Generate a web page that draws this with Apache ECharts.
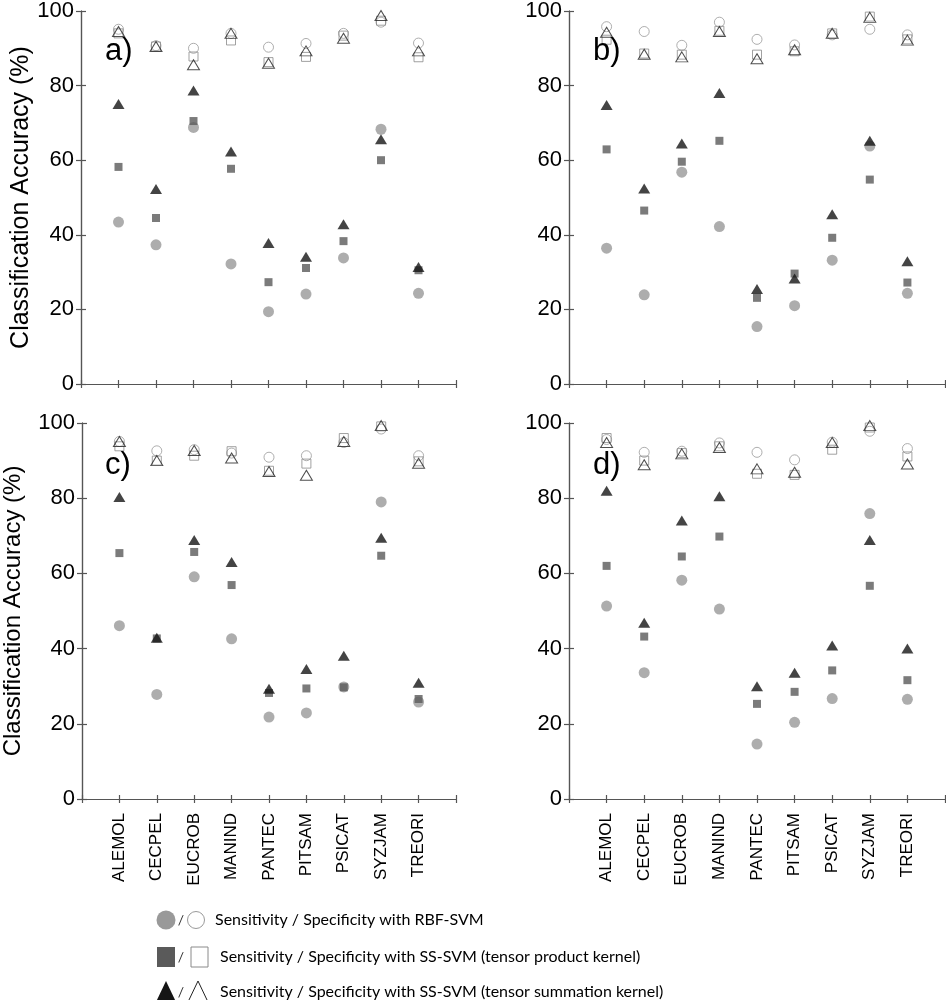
<!DOCTYPE html>
<html>
<head>
    <meta charset="utf-8">
    <title>Classification Accuracy</title>
    <style>
        body { margin: 0; background: #fff; }
        #chart { width: 946px; height: 1000px; }
    </style>
</head>
<body>
    <div id="chart"></div>
    <script src="https://cdn.jsdelivr.net/npm/echarts@6/dist/echarts.min.js"></script>
    <script>
        (function() {
            'use strict';

            var categories = ['ALEMOL', 'CECPEL', 'EUCROB', 'MANIND', 'PANTEC', 'PITSAM', 'PSICAT', 'SYZJAM', 'TREORI'];
            var yTicks = [0, 20, 40, 60, 80, 100];
            var panelNames = ['a)', 'b)', 'c)', 'd)'];

            // a)
            var rbfSensA = [43.4, 37.3, 68.8, 32.2, 19.4, 24.1, 33.8, 68.3, 24.3];
            var rbfSpecA = [95.1, 90.7, 90.0, 94.0, 90.3, 91.3, 94.0, 97.0, 91.4];
            var prodSensA = [58.2, 44.5, 70.5, 57.7, 27.3, 31.1, 38.3, 60.0, 30.5];
            var prodSpecA = [94.0, 90.5, 87.8, 92.1, 86.3, 87.7, 93.4, 97.4, 87.6];
            var sumSensA = [75.1, 52.3, 78.7, 62.3, 37.8, 34.1, 42.8, 65.6, 31.4];
            var sumSpecA = [94.5, 90.5, 85.6, 94.0, 86.0, 89.3, 92.7, 98.8, 89.3];

            // b)
            var rbfSensB = [36.4, 23.9, 56.8, 42.2, 15.4, 21.0, 33.2, 63.8, 24.3];
            var rbfSpecB = [95.8, 94.5, 90.8, 97.0, 92.4, 90.9, 93.6, 95.1, 93.6];
            var prodSensB = [62.9, 46.5, 59.6, 65.2, 23.1, 29.6, 39.2, 54.8, 27.2];
            var prodSpecB = [92.3, 88.6, 88.3, 94.7, 88.3, 89.2, 94.0, 98.5, 92.4];
            var sumSensB = [74.8, 52.4, 64.5, 78.0, 25.5, 28.3, 45.5, 65.2, 32.9];
            var sumSpecB = [94.3, 88.4, 87.7, 94.5, 87.2, 89.6, 94.0, 98.3, 92.2];

            // c)
            var rbfSensC = [46.1, 27.8, 59.1, 42.6, 21.8, 22.9, 29.8, 79.0, 25.8];
            var rbfSpecC = [95.1, 92.6, 92.9, 92.0, 90.9, 91.3, 94.8, 98.4, 91.3];
            var prodSensC = [65.4, 42.7, 65.7, 56.9, 28.2, 29.4, 29.7, 64.7, 26.6];
            var prodSpecC = [93.8, 90.0, 91.3, 92.5, 87.3, 89.2, 96.0, 99.1, 89.8];
            var sumSensC = [80.3, 42.9, 68.9, 63.0, 29.3, 34.6, 38.1, 69.5, 30.9];
            var sumSpecC = [95.1, 90.0, 92.7, 90.7, 87.1, 86.1, 95.1, 99.3, 89.3];

            // d)
            var rbfSensD = [51.3, 33.6, 58.2, 50.5, 14.6, 20.4, 26.7, 75.9, 26.5];
            var rbfSpecD = [95.6, 92.2, 92.5, 94.7, 92.2, 90.2, 94.9, 97.8, 93.2];
            var prodSensD = [62.0, 43.2, 64.5, 69.8, 25.3, 28.5, 34.2, 56.7, 31.6];
            var prodSpecD = [96.0, 90.0, 92.0, 93.8, 86.5, 86.2, 92.9, 98.8, 91.1];
            var sumSensD = [82.0, 46.9, 74.1, 80.5, 30.0, 33.6, 40.8, 68.9, 40.0];
            var sumSpecD = [94.8, 88.9, 91.8, 93.5, 87.8, 86.9, 94.8, 99.3, 89.1];

            var panelData = [
                [rbfSensA, rbfSpecA, prodSensA, prodSpecA, sumSensA, sumSpecA],
                [rbfSensB, rbfSpecB, prodSensB, prodSpecB, sumSensB, sumSpecB],
                [rbfSensC, rbfSpecC, prodSensC, prodSpecC, sumSensC, sumSpecC],
                [rbfSensD, rbfSpecD, prodSensD, prodSpecD, sumSensD, sumSpecD]
            ];

            // 标记样式: 圆/方/三角, 实心=sensitivity, 空心=specificity
            var markStyles = [
                { symbol: 'circle', size: 11, itemStyle: { color: '#999999' } },
                { symbol: 'circle', size: 10, itemStyle: { color: 'rgba(0,0,0,0)', borderColor: '#9a9a9a', borderWidth: 1 } },
                { symbol: 'rect', size: 8, itemStyle: { color: '#5a5a5a' } },
                { symbol: 'rect', size: 9, itemStyle: { color: 'rgba(0,0,0,0)', borderColor: '#8a8a8a', borderWidth: 1 } },
                { symbol: 'triangle', size: [12, 10], itemStyle: { color: '#151515' } },
                { symbol: 'triangle', size: [12, 10], itemStyle: { color: 'rgba(0,0,0,0)', borderColor: '#222222', borderWidth: 1 } }
            ];
            // 绘制顺序: 空心在下, 实心圆->方->三角
            var drawOrder = [1, 3, 5, 0, 2, 4];

            var gridPos = [
                { left: 81, top: 9, width: 375, height: 375 },
                { left: 569, top: 9, width: 376, height: 375 },
                { left: 81, top: 423, width: 375, height: 376 },
                { left: 569, top: 423, width: 376, height: 376 }
            ];
            var yNameSize = [25, 0, 24, 0];
            var yNameGap = [46, 0, 57, 0];

            var lineStyle = { color: '#555555', width: 1.2 };
            var font = 'Liberation Sans';

            var grids = [], xAxes = [], yAxes = [], series = [], titles = [];

            gridPos.forEach(function(g, i) {
                var bottomRow = i >= 2;
                grids.push(g);

                xAxes.push({
                    type: 'value', gridIndex: i, min: 0, max: 10, interval: 1,
                    position: 'bottom',
                    axisLine: { lineStyle: lineStyle },
                    axisTick: { inside: true, length: 4, lineStyle: lineStyle },
                    splitLine: { show: false },
                    axisLabel: {
                        show: bottomRow, rotate: 90, margin: 14,
                        fontFamily: font, fontSize: 17, color: '#000',
                        formatter: function(v) { return categories[v - 1] || ''; }
                    }
                });
                xAxes.push({
                    type: 'value', gridIndex: i, min: 0, max: 10, interval: 1,
                    position: 'top',
                    axisLine: { lineStyle: lineStyle },
                    axisTick: { inside: true, length: 4, lineStyle: lineStyle },
                    splitLine: { show: false },
                    axisLabel: { show: false }
                });

                yAxes.push({
                    type: 'value', gridIndex: i, min: yTicks[0], max: yTicks[yTicks.length - 1],
                    interval: yTicks[1] - yTicks[0], position: 'left',
                    name: (i % 2 === 0) ? 'Classification Accuracy (%)' : '',
                    nameLocation: 'middle', nameGap: yNameGap[i],
                    nameTextStyle: { fontFamily: font, fontSize: yNameSize[i] || 18, color: '#000' },
                    axisLine: { lineStyle: lineStyle },
                    axisTick: { inside: true, length: 5, lineStyle: lineStyle },
                    splitLine: { show: false },
                    axisLabel: { fontFamily: font, fontSize: 22, color: '#000', margin: 7 }
                });
                yAxes.push({
                    type: 'value', gridIndex: i, min: yTicks[0], max: yTicks[yTicks.length - 1],
                    interval: yTicks[1] - yTicks[0], position: 'right',
                    axisLine: { lineStyle: lineStyle },
                    axisTick: { inside: true, length: 5, lineStyle: lineStyle },
                    splitLine: { show: false },
                    axisLabel: { show: false }
                });

                drawOrder.forEach(function(k) {
                    var m = markStyles[k];
                    series.push({
                        type: 'scatter',
                        xAxisIndex: i * 2,
                        yAxisIndex: i * 2,
                        symbol: m.symbol,
                        symbolSize: m.size,
                        itemStyle: m.itemStyle,
                        silent: true,
                        data: panelData[i][k].map(function(v, j) { return [j + 1, v]; })
                    });
                });

                titles.push({
                    text: panelNames[i],
                    left: g.left + 19,
                    top: g.top + 22,
                    textStyle: { fontFamily: font, fontSize: 31, fontWeight: 'normal', color: '#000' }
                });
            });

            // 图例 (底部自定义)
            var legendRows = [
                { y: 920, shape: 'circle', fill: '#999999', stroke: '#9a9a9a', text: 'Sensitivity / Specificity with RBF-SVM', tx: 215 },
                { y: 957, shape: 'rect', fill: '#5a5a5a', stroke: '#8a8a8a', text: 'Sensitivity / Specificity with SS-SVM (tensor product kernel)', tx: 220 },
                { y: 992, shape: 'triangle', fill: '#151515', stroke: '#222222', text: 'Sensitivity / Specificity with SS-SVM (tensor summation kernel)', tx: 220 }
            ];
            var legendFont = 'Lato';
            var graphics = [];
            legendRows.forEach(function(r) {
                var filled, empty;
                if (r.shape === 'circle') {
                    filled = { type: 'circle', shape: { cx: 166, cy: r.y, r: 9.5 }, style: { fill: r.fill } };
                    empty = { type: 'circle', shape: { cx: 196, cy: r.y, r: 8.5 }, style: { fill: 'none', stroke: r.stroke, lineWidth: 1 } };
                } else if (r.shape === 'rect') {
                    filled = { type: 'rect', shape: { x: 157, y: r.y - 10, width: 18, height: 20 }, style: { fill: r.fill } };
                    empty = { type: 'rect', shape: { x: 191, y: r.y - 10, width: 17, height: 20 }, style: { fill: 'none', stroke: r.stroke, lineWidth: 1 } };
                } else {
                    filled = { type: 'polygon', shape: { points: [[166, r.y - 11], [176, r.y + 10], [156, r.y + 10]] }, style: { fill: r.fill } };
                    empty = { type: 'polygon', shape: { points: [[198, r.y - 11], [208, r.y + 10], [188, r.y + 10]] }, style: { fill: 'none', stroke: r.stroke, lineWidth: 1 } };
                }
                graphics.push(filled, empty);
                graphics.push({
                    type: 'text', x: 181, y: r.y,
                    style: { text: '/', fill: '#333', font: '14px ' + legendFont, verticalAlign: 'middle', align: 'center' }
                });
                graphics.push({
                    type: 'text', x: r.tx, y: r.y,
                    style: { text: r.text, fill: '#000', font: '16px ' + legendFont, verticalAlign: 'middle' }
                });
            });

            var chart = echarts.init(document.getElementById('chart'), null, { renderer: 'canvas' });
            chart.setOption({
                animation: false,
                backgroundColor: '#fff',
                title: titles,
                grid: grids,
                xAxis: xAxes,
                yAxis: yAxes,
                series: series,
                graphic: graphics
            });
        }());
    </script>
</body>
</html>
